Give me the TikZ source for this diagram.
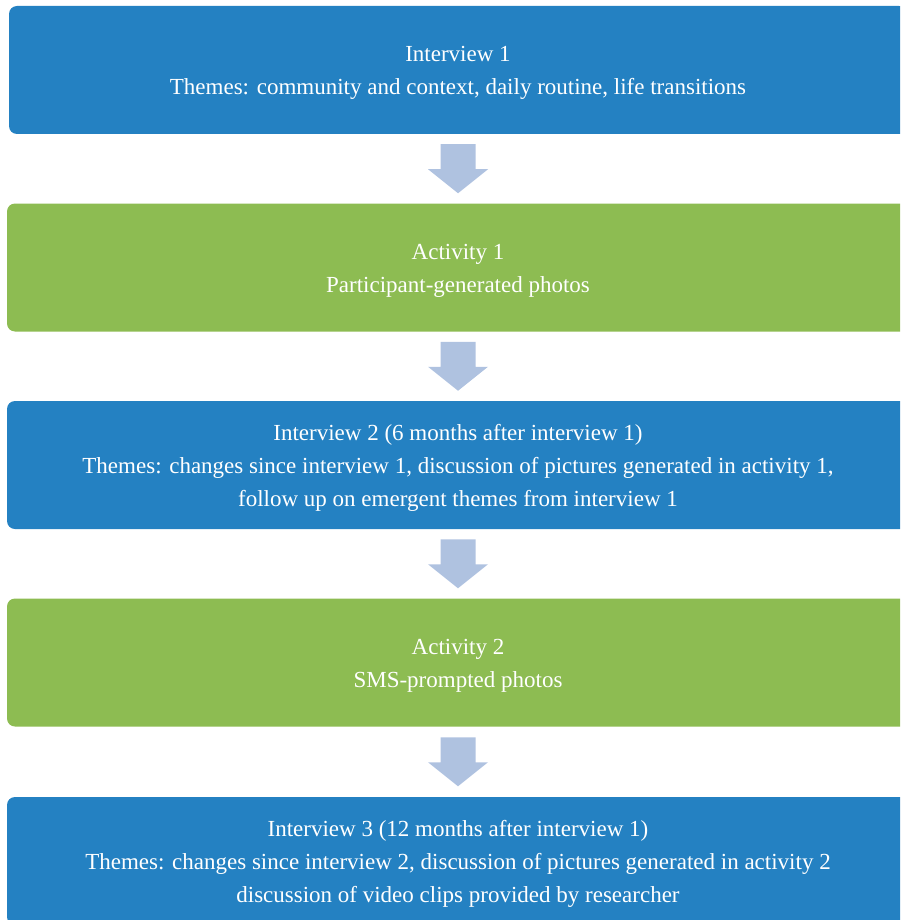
\documentclass[tikz,border=0pt]{standalone}
\usepackage{fontspec}
\setmainfont{Liberation Serif}
\usetikzlibrary{calc}
\definecolor{boxblue}{RGB}{36,129,194}
\definecolor{boxgreen}{RGB}{141,188,82}
\definecolor{arrowfill}{RGB}{175,194,224}
\newcommand{\topstrut}{\rule{0pt}{21.5pt}}
\tikzset{
  stagebox/.style={rounded corners=8pt, minimum width=902pt, minimum height=128pt,
    inner sep=0pt, text=white, align=center,
    font=\fontsize{23pt}{33pt}\selectfont},
  bluebox/.style={stagebox, fill=boxblue},
  greenbox/.style={stagebox, fill=boxgreen},
}
\newcommand{\downblock}[1]{%
  \fill[arrowfill] (#1) ++(-17.5pt,24.5pt) -- ++(35pt,0pt) -- ++(0pt,-25pt)
    -- ++(12.5pt,0pt) -- ++(-30pt,-24pt) -- ++(-30pt,24pt) -- ++(12.5pt,0pt) -- cycle;}
\begin{document}
\begin{tikzpicture}[x=1pt,y=-1pt]
\useasboundingbox (0,0) rectangle (900,920);
\clip (0,0) rectangle (900,920);
\node[bluebox, minimum width=898pt] (b1) at (458,70) {\topstrut Interview 1\\Themes: community and context, daily routine, life transitions};
\node[greenbox] (b2) at (458,267.5) {\topstrut Activity 1\\Participant-generated photos};
\node[bluebox] (b3) at (458,465) {\topstrut Interview 2 (6 months after interview 1)\\Themes: changes since interview 1, discussion of pictures generated in activity 1,\\follow up on emergent themes from interview 1};
\node[greenbox] (b4) at (458,662.5) {\topstrut Activity 2\\SMS-prompted photos};
\node[bluebox] (b5) at (458,861) {\topstrut Interview 3 (12 months after interview 1)\\Themes: changes since interview 2, discussion of pictures generated in activity 2\\discussion of video clips provided by researcher};
\coordinate (m1) at ($(b1.south)!0.5!(b2.north)$);
\coordinate (m2) at ($(b2.south)!0.5!(b3.north)$);
\coordinate (m3) at ($(b3.south)!0.5!(b4.north)$);
\coordinate (m4) at ($(b4.south)!0.5!(b5.north)$);
\downblock{m1}
\downblock{m2}
\downblock{m3}
\downblock{m4}
\end{tikzpicture}
\end{document}
